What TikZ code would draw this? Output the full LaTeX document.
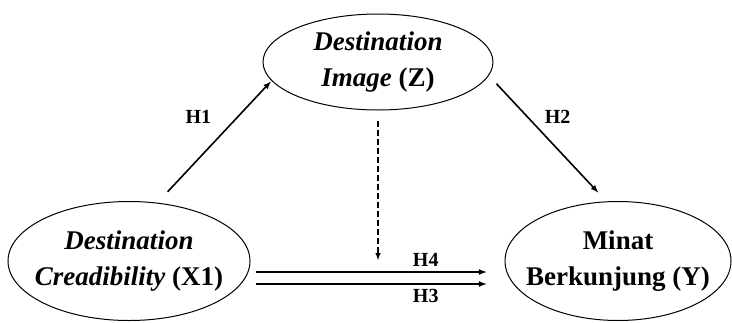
\documentclass[tikz,border=0pt]{standalone}
\usepackage{fontspec}
\setmainfont{Liberation Serif}
\usetikzlibrary{shapes.geometric}

\begin{document}
\begin{tikzpicture}[x=1pt, y=-1pt,
    every node/.style={font=\bfseries},
    var/.style={draw, ellipse, line width=1pt, inner xsep=-20pt, inner ysep=0pt, align=center,
                font=\fontsize{27}{36}\selectfont\bfseries},
    hyp/.style={font=\fontsize{20}{22}\selectfont\bfseries},
    path/.style={line width=1.6pt, -latex}]
    \useasboundingbox (0,0) rectangle (732,322);% Keeps the margins

    \node[var, minimum width=230pt, minimum height=96pt] (DestImage) at (378,62)
        {\textit{Destination}\\ \textit{Image} (Z)};
    \node[var, minimum width=242pt, minimum height=119pt] (DestCred) at (129,261)
        {\textit{Destination}\\ \textit{Creadibility} (X1)};
    \node[var, minimum width=226pt, minimum height=119pt] (MinatY) at (618,261)
        {Minat\\ Berkunjung (Y)};
    \coordinate (MedTip) at (378,260);% End of the dashed arrow

    \draw[path, shorten <=15pt, shorten >=1pt] (DestCred.64) -- (DestImage.190)
        node[hyp, pos=0.7, xshift=-39pt] {H1};
    \draw[path, shorten <=11pt, shorten >=12pt] (DestImage.353) -- (MinatY.101)
        node[hyp, pos=0.33, xshift=30pt] {H2};
    \draw[path, dash pattern=on 6pt off 3pt, line width=1.4pt, shorten <=10pt] (DestImage.south) -- (MedTip);
    \draw[path, shorten <=5pt, shorten >=18pt] ([yshift=-11pt]DestCred.east) -- ([yshift=-11pt]MinatY.west)
        node[hyp, pos=0.69, above=1pt] {H4};
    \draw[path, shorten <=5pt, shorten >=18pt] ([yshift=-23pt]DestCred.east) -- ([yshift=-23pt]MinatY.west)
        node[hyp, pos=0.69, below=1pt] {H3};
\end{tikzpicture}
\end{document}
